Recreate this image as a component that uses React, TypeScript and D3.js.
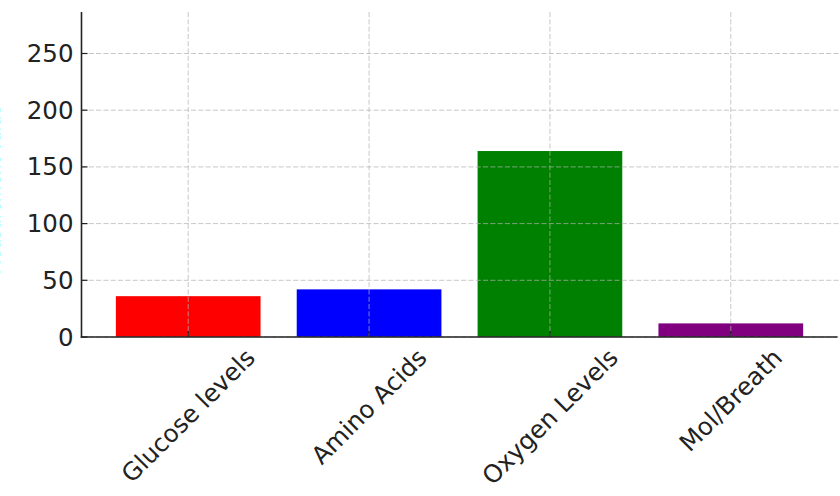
import React, { useEffect, useRef } from "react";
import * as d3 from "d3";

const categories = ["Glucose levels", "Amino Acids", "Oxygen Levels", "Mol/Breath"];
const values = [36, 42, 164, 12];
const colors = ["#ff0000", "#0000ff", "#008000", "#800080"];
const yTicks = [0, 50, 100, 150, 200, 250];
const yLabel = "Measurement Value";

export default function App() {
  const ref = useRef<SVGSVGElement | null>(null);

  useEffect(() => {
    const svg = d3.select(ref.current);
    svg.selectAll("*").remove();
    const font = "DejaVu Sans, sans-serif";
    const fs = 24.5;
    const x = d3.scaleLinear().domain([-0.59, categories.length - 0.41]).range([81.5, 837.5]);
    const y = d3.scaleLinear().domain([0, 286.6]).range([337, 12]);
    const barW = x(0.8) - x(0);

    svg.append("g").selectAll("rect").data(values).join("rect")
      .attr("x", (_, i) => x(i) - barW / 2)
      .attr("width", barW)
      .attr("y", (d) => y(d))
      .attr("height", (d) => y(0) - y(d))
      .attr("fill", (_, i) => colors[i]);

    const grid = svg.append("g").attr("stroke", "#b0b0b0").attr("stroke-opacity", 0.7)
      .attr("stroke-width", 1).attr("stroke-dasharray", "5.1,2.2");
    grid.selectAll("line.h").data(yTicks).join("line").attr("class", "h")
      .attr("x1", x.range()[0]).attr("x2", 840)
      .attr("y1", (d) => y(d)).attr("y2", (d) => y(d));
    grid.selectAll("line.v").data(categories).join("line").attr("class", "v")
      .attr("x1", (_, i) => x(i)).attr("x2", (_, i) => x(i))
      .attr("y1", y.range()[1]).attr("y2", y(0));

    const tk = svg.append("g").attr("stroke", "#222").attr("stroke-width", 1.2);
    tk.selectAll("line.yt").data(yTicks).join("line").attr("class", "yt")
      .attr("x1", x.range()[0]).attr("x2", x.range()[0] + 6)
      .attr("y1", (d) => y(d)).attr("y2", (d) => y(d));
    tk.selectAll("line.xt").data(categories).join("line").attr("class", "xt")
      .attr("x1", (_, i) => x(i)).attr("x2", (_, i) => x(i))
      .attr("y1", y(0)).attr("y2", y(0) - 6);

    svg.append("line").attr("x1", x.range()[0]).attr("x2", x.range()[0])
      .attr("y1", y.range()[1]).attr("y2", y(0) + 0.75)
      .attr("stroke", "#222").attr("stroke-width", 1.6);
    svg.append("line").attr("x1", x.range()[0] - 0.75).attr("x2", x.range()[1])
      .attr("y1", y(0)).attr("y2", y(0))
      .attr("stroke", "#222").attr("stroke-width", 1.6);

    svg.append("g").selectAll("text").data(yTicks).join("text")
      .attr("x", x.range()[0] - 8).attr("y", (d) => y(d))
      .attr("text-anchor", "end").attr("dominant-baseline", "central")
      .attr("font-family", font).attr("font-size", fs).attr("fill", "#222")
      .text((d) => String(d));

    const xl = svg.append("g").selectAll("text").data(categories).join("text")
      .attr("text-anchor", "middle").attr("dominant-baseline", "central")
      .attr("font-family", font).attr("font-size", fs).attr("fill", "#222")
      .text((d) => d);
    xl.each(function (_, i) {
      const el = this as SVGTextElement;
      const L = el.getComputedTextLength();
      const half = ((L + fs * 0.95) * Math.SQRT1_2) / 2;
      d3.select(el).attr("transform", `translate(${x(i)},${y(0) + 8 + half}) rotate(-45)`);
    });

    svg.append("text")
      .attr("transform", `translate(-6,190) rotate(-90)`)
      .attr("text-anchor", "middle").attr("dominant-baseline", "central")
      .attr("font-family", font).attr("font-size", 17).attr("fill", "#00ffff")
      .text(yLabel);
  }, []);

  return (
    <svg ref={ref} width={840} height={496}
      style={{ position: "absolute", left: 0, top: 0, display: "block", background: "#fff" }} />
  );
}
